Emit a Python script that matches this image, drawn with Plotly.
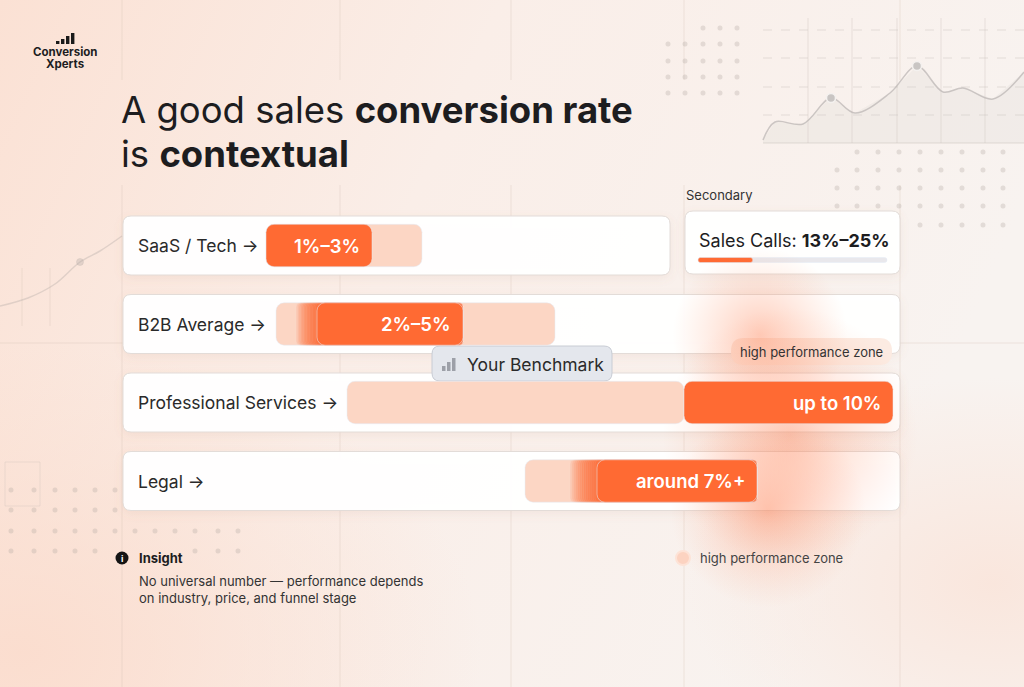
import base64
import plotly.graph_objects as go

W, H = 1024, 687

# ---- data ---------------------------------------------------------------
rows = ["SaaS / Tech", "B2B Average", "Professional Services", "Legal"]
row_labels = ["SaaS / Tech →", "B2B Average →", "Professional Services →", "Legal →"]
bar_texts = ["1%–3%", "2%–5%", "up to 10%", "around 7%+"]
# light "zone" bar and dark "range" bar, on the track scale (%)
zone_start = [1.02, 1.22, 2.64, 6.2]
zone_end = [4.14, 6.8, 9.38, 10.84]
range_start = [1.02, 2.04, 9.38, 7.64]
range_end = [3.14, 4.96, 13.56, 10.84]
fade_start = [None, 1.62, None, 7.1]  # soft left edge of the dark bar

secondary_title = "Secondary"
secondary_label = "Sales Calls: "
secondary_value = "13%–25%"
secondary_share = 0.29

insight_title = "Insight"
insight_text = "No universal number — performance depends<br>on industry, price, and funnel stage"
legend_text = "high performance zone"
benchmark_text = "Your Benchmark"

# decorative background charts
deco_line_x = [763, 775, 803, 831, 855, 890, 917, 943, 963, 993, 1024]
deco_line_y = [140, 122, 124, 98, 113, 93, 66, 92, 88, 99, 72]
deco_marks_x = [831, 917]
deco_marks_y = [98, 66]
left_line_x = [0, 28, 55, 80, 100, 122]
left_line_y = [306, 298, 284, 262, 251, 236]
# soft orange glow behind the high performance zone
glow_x = [760, 790, 768]
glow_y = [335, 435, 510]
glow_size = [175, 255, 195]

# ---- layout constants ---------------------------------------------------
ORANGE = "#ff6a33"
PEACH = "#fcd6c4"
INK = "#1d1d1f"
FONT = "Inter, 'Noto Sans', sans-serif"
ROW0, ROW_GAP = 245.5, 78.5      # pixel centre of first row, row spacing
PX_ZERO, PX_PER_PCT = 215, 50    # where 0 % sits on the track, px per %
card_right = [670, 900, 900, 900]


def row_px(i):
    return ROW0 + i * ROW_GAP


def rrect(x0, y0, x1, y1, r):
    return (f"M{x0+r},{y0} L{x1-r},{y0} Q{x1},{y0} {x1},{y0+r} "
            f"L{x1},{y1-r} Q{x1},{y1} {x1-r},{y1} L{x0+r},{y1} "
            f"Q{x0},{y1} {x0},{y1-r} L{x0},{y0+r} Q{x0},{y0} {x0+r},{y0} Z")


def svg_uri(svg):
    return "data:image/svg+xml;base64," + base64.b64encode(svg.encode()).decode()


cards = [(123, row_px(i) - 29.5, card_right[i], row_px(i) + 29.5) for i in range(len(rows))]
sec_card = (685, 211, 900, 274)

# background: soft peach gradient + card shadows
shadows = "".join(
    f'<rect x="{x0}" y="{y0+3}" width="{x1-x0}" height="{y1-y0}" rx="8" fill="#b07a60" fill-opacity="0.10" filter="url(#b)"/>'
    for x0, y0, x1, y1 in cards + [sec_card])
bg_svg = f'''<svg xmlns="http://www.w3.org/2000/svg" width="{W}" height="{H}" viewBox="0 0 {W} {H}" preserveAspectRatio="none">
<defs>
<linearGradient id="g" x1="0" y1="0" x2="1" y2="0.3">
<stop offset="0" stop-color="#fbe1d4"/>
<stop offset="0.45" stop-color="#faeee8"/>
<stop offset="1" stop-color="#f8f3f0"/>
</linearGradient>
<radialGradient id="r" cx="0.02" cy="0.95" r="0.45">
<stop offset="0" stop-color="#fbdccd" stop-opacity="0.9"/>
<stop offset="1" stop-color="#fbdccd" stop-opacity="0"/>
</radialGradient>
<radialGradient id="r2" cx="0.97" cy="0.85" r="0.3">
<stop offset="0" stop-color="#fae3d8" stop-opacity="0.8"/>
<stop offset="1" stop-color="#fae3d8" stop-opacity="0"/>
</radialGradient>
<filter id="b" x="-20%" y="-50%" width="140%" height="200%"><feGaussianBlur stdDeviation="5"/></filter>
</defs>
<rect width="{W}" height="{H}" fill="url(#g)"/>
<rect width="{W}" height="{H}" fill="url(#r)"/>
<rect width="{W}" height="{H}" fill="url(#r2)"/>
{shadows}
</svg>'''

fig = go.Figure()

# ---- decorative layer (pixel axes x / y) --------------------------------
dot_x, dot_y = [], []
for y, cols in [(28, [703, 720, 737])] + [(y, [668, 685, 703, 720, 737]) for y in (44, 61, 77, 93)]:
    dot_x += cols
    dot_y += [y] * len(cols)
right_cols = [837, 857, 878, 899, 920, 941, 962, 983, 1003]
for y, cols in [(152, right_cols[1:]), (170, right_cols), (188, right_cols), (206, right_cols), (225, right_cols[4:])]:
    dot_x += cols
    dot_y += [y] * len(cols)
left_cols = [11, 34, 55, 75, 95, 115, 135, 155, 175, 195, 218, 238]
for y, cols in [(490, left_cols[:6]), (510, left_cols[:6]), (531, left_cols), (551, left_cols[:5] + left_cols[9:])]:
    dot_x += cols
    dot_y += [y] * len(cols)

fig.add_trace(go.Scatter(x=dot_x, y=dot_y, mode="markers",
                         marker=dict(size=5, color="rgba(175,165,160,0.3)"), hoverinfo="skip"))
fig.add_trace(go.Scatter(x=deco_line_x + [deco_line_x[-1], deco_line_x[0]],
                         y=deco_line_y + [143, 143],
                         mode="lines", fill="toself", fillcolor="rgba(200,195,192,0.14)",
                         line=dict(width=0), hoverinfo="skip"))
fig.add_trace(go.Scatter(x=deco_line_x, y=deco_line_y, mode="lines",
                         line=dict(color="rgba(185,180,178,0.7)", width=1.5, shape="spline"),
                         hoverinfo="skip"))
fig.add_trace(go.Scatter(x=deco_marks_x, y=deco_marks_y, mode="markers",
                         marker=dict(size=9, color="#c9c5c3", line=dict(color="#f4f1ef", width=1.5)),
                         hoverinfo="skip"))
fig.add_trace(go.Scatter(x=left_line_x, y=left_line_y, mode="lines+markers",
                         line=dict(color="rgba(185,175,170,0.4)", width=1.5, shape="spline"),
                         marker=dict(size=[0, 0, 0, 7, 0, 0], color="rgba(185,175,170,0.55)"),
                         hoverinfo="skip"))
# radial gradient: gradient.color is the centre colour
fig.add_trace(go.Scatter(x=glow_x, y=glow_y, mode="markers",
                         marker=dict(size=glow_size, color="rgba(255,150,110,0)",
                                     gradient=dict(type="radial", color="rgba(255,110,60,0.5)"),
                                     line=dict(width=0)),
                         hoverinfo="skip"))

# secondary progress bar
track_x0, track_w = 698, 189
fig.add_trace(go.Bar(y=[260], x=[track_w], base=[track_x0], orientation="h", width=5,
                     marker=dict(color="#e9e8ec", cornerradius=3), hoverinfo="skip"))
fig.add_trace(go.Bar(y=[260], x=[track_w * secondary_share], base=[track_x0], orientation="h",
                     width=5, marker=dict(color=ORANGE, cornerradius=3), hoverinfo="skip"))

# ---- benchmark bars (track axes x2 / y2) --------------------------------
fig.add_trace(go.Bar(y=rows, x=[e - s for s, e in zip(zone_start, zone_end)], base=zone_start,
                     orientation="h", width=0.54, xaxis="x2", yaxis="y2",
                     marker=dict(color=PEACH, cornerradius=8), hoverinfo="skip"))
for i, fs in enumerate(fade_start):
    if fs is None:
        continue
    steps = 14
    for k in range(steps):
        s = fs + (range_start[i] - fs) * k / steps
        fig.add_trace(go.Bar(y=[rows[i]], x=[range_end[i] - s], base=[s], orientation="h",
                             width=0.54, opacity=0.13, xaxis="x2", yaxis="y2",
                             marker=dict(color=ORANGE, cornerradius=4), hoverinfo="skip"))
fig.add_trace(go.Bar(y=rows, x=[e - s for s, e in zip(range_start, range_end)], base=range_start,
                     orientation="h", width=0.54, xaxis="x2", yaxis="y2",
                     marker=dict(color=ORANGE, cornerradius=8), hoverinfo="skip"))

# ---- shapes -------------------------------------------------------------
shapes = []
grid = "rgba(205,185,175,0.3)"


def seg(x0, y0, x1, y1, color=grid, dash=None):
    shapes.append(dict(type="line", xref="x", yref="y", x0=x0, x1=x1, y0=y0, y1=y1,
                       line=dict(color=color, width=1, dash=dash), layer="below"))


for gx in (122, 340, 511, 684, 900):
    seg(gx, 0, gx, 80)
    seg(gx, 185, gx, H)
seg(0, 343, W, 343)
for gy in (30, 58, 87, 115):
    seg(763, gy, W, gy, "rgba(200,192,188,0.45)", "dash")
for gx in (808, 852, 897, 941, 985):
    seg(gx, 18, gx, 143, "rgba(205,196,192,0.4)")
seg(763, 143, W, 143, "rgba(205,196,192,0.55)")
for gx in (22, 50):
    seg(gx, 268, gx, 326)
shapes.append(dict(type="rect", xref="x", yref="y", x0=5, x1=40, y0=462, y1=506,
                   line=dict(color="rgba(200,185,178,0.3)", width=1), layer="below"))

# cards
for x0, y0, x1, y1 in cards + [sec_card]:
    shapes.append(dict(type="path", xref="x", yref="y", path=rrect(x0, y0, x1, y1, 8),
                       fillcolor="rgba(255,255,255,0.97)", line=dict(color="#e3dcd8", width=1),
                       layer="below"))
# pills
shapes.append(dict(type="path", xref="x", yref="y", path=rrect(432, 346, 612, 381, 8),
                   fillcolor="#e4e7ed", line=dict(color="#c8ccd4", width=1), layer="below"))
shapes.append(dict(type="path", xref="x", yref="y", path=rrect(731, 338, 892, 365, 13),
                   fillcolor="rgba(252,234,225,0.97)", line=dict(width=0), layer="below"))
# little icons
for bx, bh in zip((56, 61, 66, 71), (3, 5, 8, 11)):
    shapes.append(dict(type="rect", xref="x", yref="y", x0=bx, x1=bx + 3.4, y0=44 - bh, y1=44,
                       fillcolor="#1a1a1a", line=dict(width=0)))
for bx, bh in zip((442, 447, 452), (5, 9, 13)):
    shapes.append(dict(type="rect", xref="x", yref="y", x0=bx, x1=bx + 3.5, y0=371 - bh, y1=371,
                       fillcolor="#9da0a8", line=dict(width=0)))
shapes.append(dict(type="circle", xref="x", yref="y", x0=115.5, x1=128.5, y0=551.5, y1=564.5,
                   fillcolor="#141414", line=dict(width=0)))
shapes.append(dict(type="circle", xref="x", yref="y", x0=676, x1=690, y0=551, y1=565,
                   fillcolor="#fcd3c1", line=dict(color="#fde3d7", width=2)))

# ---- text ---------------------------------------------------------------
ann = []


def text(x, y, s, size, color=INK, xanchor="left", yanchor="middle", weight=None):
    f = dict(family=FONT, size=size, color=color)
    if weight:
        f["weight"] = weight
    ann.append(dict(xref="x", yref="y", x=x, y=y, text=s, showarrow=False, xanchor=xanchor,
                    yanchor=yanchor, font=f, align="left"))


text(65, 52, "<b>Conversion</b>", 11.5, xanchor="center")
text(65, 64, "<b>Xperts</b>", 11.5, xanchor="center")
text(119, 110, "A good sales <b>conversion rate</b>", 36.5)
text(119, 154, "is <b>contextual</b>", 36.5)

for i, lab in enumerate(row_labels):
    ann.append(dict(xref="x", yref="y2", x=136, y=rows[i], text=lab, showarrow=False,
                    xanchor="left", font=dict(family=FONT, size=17.5, color="#2a2a2a")))
for i, t in enumerate(bar_texts):
    ann.append(dict(xref="x2", yref="y2", x=range_end[i], y=rows[i], text=t, showarrow=False,
                    xanchor="right", xshift=-10,
                    font=dict(family=FONT, size=18.5, color="white", weight=600)))

text(684, 195, secondary_title, 13, color="#333333")
text(697, 240, secondary_label + "<b>" + secondary_value + "</b>", 18, color="#1d1d1f")
text(465, 364, benchmark_text, 17.5, color="#2a2a2a")
text(811.5, 351.5, legend_text, 13, color="#333333", xanchor="center")
text(122, 558, "<b>i</b>", 9, color="white", xanchor="center")
text(137, 558, "<b>" + insight_title + "</b>", 13, color="#1d1d1f")
text(137, 571, insight_text, 13, color="#333333", yanchor="top")
text(698, 558, legend_text, 13, color="#444444")

fig.update_layout(
    width=W, height=H, margin=dict(l=0, r=0, t=0, b=0),
    paper_bgcolor="#f9f1ec", plot_bgcolor="rgba(0,0,0,0)",
    showlegend=False, barmode="overlay",
    xaxis=dict(range=[0, W], visible=False, fixedrange=True),
    yaxis=dict(range=[H, 0], visible=False, fixedrange=True),
    xaxis2=dict(overlaying="x", range=[-PX_ZERO / PX_PER_PCT, (W - PX_ZERO) / PX_PER_PCT],
                visible=False, fixedrange=True),
    yaxis2=dict(overlaying="y", type="category", categoryorder="array", categoryarray=rows,
                range=[(H - ROW0) / ROW_GAP, -ROW0 / ROW_GAP], visible=False, fixedrange=True),
    shapes=shapes,
    annotations=ann,
    images=[dict(source=svg_uri(bg_svg), xref="paper", yref="paper", x=0, y=1, sizex=1, sizey=1,
                 xanchor="left", yanchor="top", sizing="stretch", layer="below")],
)

fig.write_html("out.html", config={"displayModeBar": False},
               post_script="document.body.style.margin='0';")
